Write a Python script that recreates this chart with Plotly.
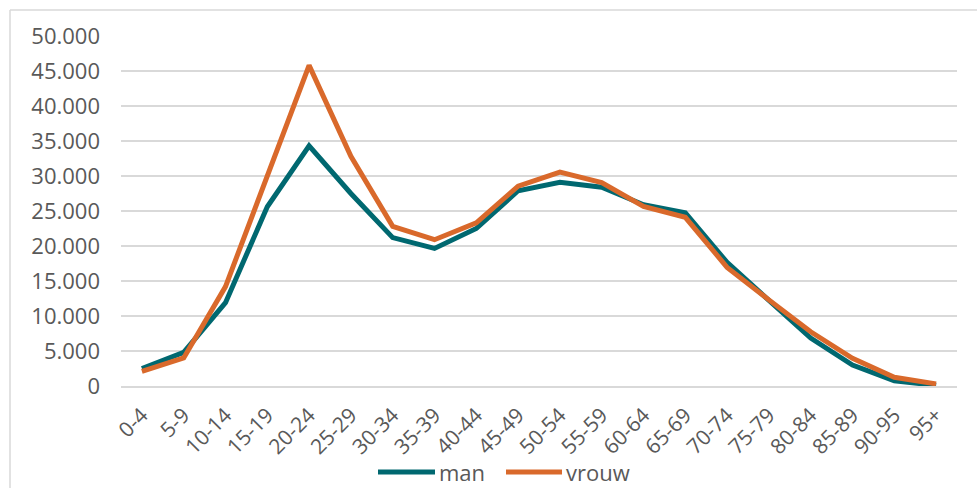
import plotly.graph_objects as go

# Age groups and counts per sex
age_groups = ["0-4", "5-9", "10-14", "15-19", "20-24", "25-29", "30-34", "35-39",
              "40-44", "45-49", "50-54", "55-59", "60-64", "65-69", "70-74",
              "75-79", "80-84", "85-89", "90-95", "95+"]
man = [2500, 4800, 11900, 25600, 34300, 27500, 21200, 19650, 22500, 27900,
       29100, 28400, 25900, 24750, 17650, 12200, 6850, 3000, 760, 80]
vrouw = [2100, 4000, 14200, 30000, 45800, 32800, 22800, 20900, 23300, 28550,
         30550, 29050, 25650, 24100, 16950, 12300, 7750, 3950, 1250, 300]
y_ticks = [0, 5000, 10000, 15000, 20000, 25000, 30000, 35000, 40000, 45000, 50000]

series = [("man", man, "#006870"), ("vrouw", vrouw, "#D9692B")]

W, H = 977, 488
L, R, T, B = 121, 20, 36, 102
FONT = "Open Sans"
GRAY = "#595959"
LINE_GRAY = "#D9D9D9"

pw = W - L - R
ph = H - T - B


def px_x(x):
    return (x - L) / pw


def px_y(y):
    return (H - B - y) / ph


fig = go.Figure()
for name, values, color in series:
    fig.add_trace(go.Scatter(x=age_groups, y=values, name=name, mode="lines",
                             line=dict(color=color, width=5), showlegend=False))

# chart-area frame (top and left edges visible)
fig.add_shape(type="line", xref="paper", yref="paper",
              x0=px_x(10), x1=px_x(W + 5), y0=px_y(10), y1=px_y(10),
              line=dict(color=LINE_GRAY, width=1.5))
fig.add_shape(type="line", xref="paper", yref="paper",
              x0=px_x(10), x1=px_x(10), y0=px_y(10), y1=px_y(H + 5),
              line=dict(color=LINE_GRAY, width=1.5))

# legend below the plot
legend_y = px_y(472)
legend_items = [(378, 435, 437), (506, 562, 564)]
for (name, _, color), (lx0, lx1, tx) in zip(series, legend_items):
    fig.add_shape(type="line", xref="paper", yref="paper",
                  x0=px_x(lx0), x1=px_x(lx1), y0=legend_y, y1=legend_y,
                  line=dict(color=color, width=5))
    fig.add_annotation(xref="paper", yref="paper", x=px_x(tx), y=legend_y,
                       xanchor="left", yanchor="middle", text=name, showarrow=False,
                       font=dict(family=FONT, size=22, color=GRAY))

fig.update_layout(
    width=W, height=H,
    margin=dict(l=L, r=R, t=T, b=B, autoexpand=False),
    paper_bgcolor="white", plot_bgcolor="white",
    separators=",.",
    font=dict(family=FONT, size=22, color=GRAY),
    showlegend=False,
    xaxis=dict(type="category", range=[-0.5, len(age_groups) - 0.5], tickangle=-45,
               showgrid=False, showline=True, automargin=False,
               linecolor=LINE_GRAY, linewidth=1.5, ticks="", ticklabelstandoff=7,
               tickfont=dict(family=FONT, size=21, color=GRAY)),
    yaxis=dict(range=[0, 50000], tickvals=y_ticks, tickformat=",d", automargin=False,
               showgrid=True, gridcolor=LINE_GRAY, gridwidth=1.5,
               zeroline=False, showline=False, ticks="", ticklabelstandoff=20,
               tickfont=dict(family=FONT, size=22, color=GRAY)),
)

fig.write_html("out.html")
